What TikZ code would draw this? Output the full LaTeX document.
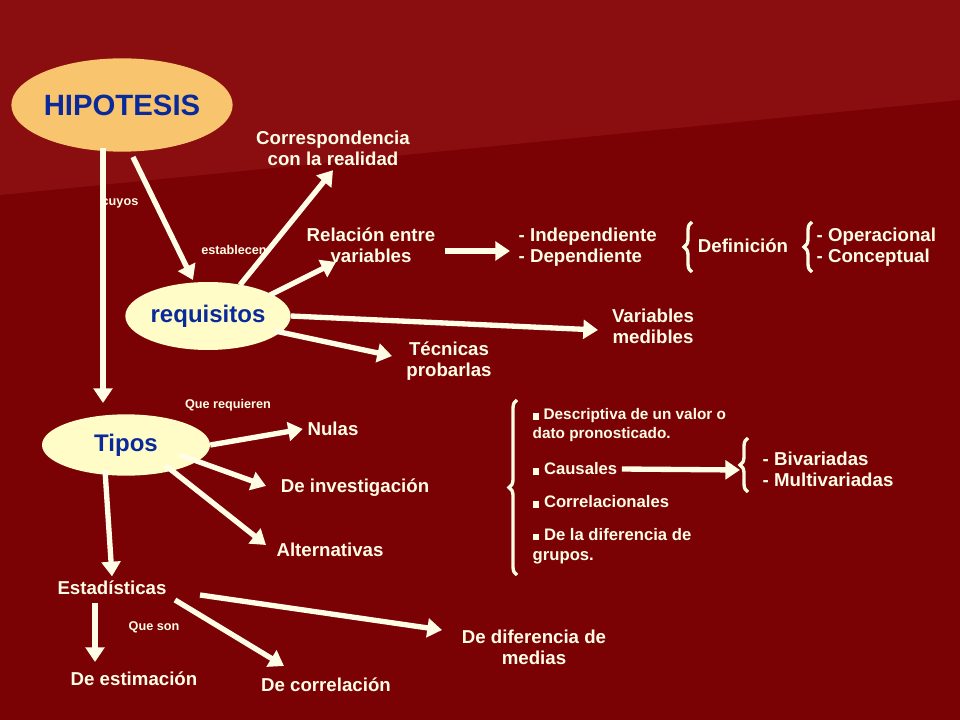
\documentclass[tikz,border=0pt]{standalone}
\usepackage{fontspec}
\setmainfont{Liberation Sans}
\usetikzlibrary{arrows.meta,decorations.pathreplacing,shapes.geometric}
\definecolor{fondo}{HTML}{7A0204}
\definecolor{banda}{HTML}{8A0E10}
\definecolor{crema}{HTML}{FFFDE6}
\definecolor{naranja}{HTML}{F8C46E}
\definecolor{amarillo}{HTML}{FFFCC8}
\definecolor{azul}{HTML}{0A2A9A}
\newcommand{\cuadro}{\rule{5pt}{5pt}\ }
\tikzset{
  txt/.style={text=crema,font=\fontsize{14}{16}\selectfont\bfseries,align=center},
  small/.style={text=crema,font=\fontsize{9.5}{11}\selectfont\bfseries},
  elip/.style={ellipse,inner sep=0pt,fill=amarillo,text=azul,font=\fontsize{18}{20}\selectfont\bfseries},
  flecha/.style={draw=crema,line width=4pt,-{Triangle[length=11pt,width=14pt]}},
  llave/.style={draw=crema,line width=2.5pt,decorate,decoration={brace,amplitude=6pt}}
}
\begin{document}
\begin{tikzpicture}[x=0.75pt,y=-0.75pt]
\fill[fondo] (0,0) rectangle (960,720);
\fill[banda] (0,0) -- (960,0) -- (960,100) -- (0,195) -- cycle;
% elipses
\node[elip,fill=naranja,minimum width=154pt,minimum height=70pt,font=\fontsize{22}{24}\selectfont\bfseries] (hip) at (122,105) {HIPOTESIS};
\node[elip,minimum width=124pt,minimum height=51pt] (req) at (208,316) {requisitos};
\node[elip,minimum width=126pt,minimum height=46pt] (tip) at (126,445) {Tipos};
% textos
\node[txt] (corr) at (333,148) {Correspondencia\\con la realidad};
\node[txt] (rel) at (371,245) {Relación entre\\variables};
\node[txt] (med) at (653,326) {Variables\\medibles};
\node[txt] (tec) at (449,361) {Técnicas\\probarlas};
\node[txt,align=left,anchor=west] (ind) at (514,247) {- Independiente\\- Dependiente};
\node[txt] (def) at (743,246) {Definición};
\node[txt,align=left,anchor=west] (ope) at (812,247) {- Operacional\\- Conceptual};
\node[txt] (nul) at (333,429) {Nulas};
\node[txt] (inv) at (355,488) {De investigación};
\node[txt] (alt) at (330,550) {Alternativas};
\node[txt] (est) at (112,588) {Estadísticas};
\node[txt] (esti) at (134,679) {De estimación};
\node[txt] (cor) at (326,685) {De correlación};
\node[txt] (dif) at (534,647) {De diferencia de\\medias};
\node[txt,align=left,anchor=west] (biv) at (758,469) {- Bivariadas\\- Multivariadas};
% lista
\node[small,anchor=west,align=left,font=\fontsize{11.5}{14}\selectfont\bfseries] (desc) at (528,425) {\cuadro Descriptiva de un valor o\\dato pronosticado.};
\node[txt,anchor=west,font=\fontsize{12.5}{15}\selectfont\bfseries] (cau) at (528,469) {\cuadro Causales};
\node[txt,anchor=west,font=\fontsize{12.5}{15}\selectfont\bfseries] (crl) at (528,502) {\cuadro Correlacionales};
\node[txt,anchor=west,align=left,font=\fontsize{12.5}{15}\selectfont\bfseries] (grp) at (528,546) {\cuadro De la diferencia de\\grupos.};
% etiquetas
\node[small] (cuy) at (120,203) {cuyos};
\node[small] (esta) at (234,250) {establecen};
\node[small] (qreq) at (228,405) {Que requieren};
\node[small] (qson) at (154,627) {Que son};
% llaves
\draw[llave] (692,272) -- (692,222);
\draw[llave] (812,272) -- (812,222);
\draw[llave] (517,575) -- (517,400);
\draw[llave] (748,492) -- (748,438);
% flechas
\draw[flecha] (103,148) -- (103,403);
\draw[flecha] (133,157) -- (193,280);
\draw[flecha] (240,285) -- (corr.south);
\draw[flecha] (270,295) -- (336,262);
\draw[flecha] (req.east) -- (598,330);
\draw[flecha] (275,331) -- (392,356);
\draw[flecha] (445,251) -- (510,251);
\draw[flecha] (tip.east) -- (nul.west);
\draw[flecha] (180,455) -- (266,486);
\draw[flecha] (165,465) -- (266,545);
\draw[flecha] (105,470) -- (est.north);
\draw[flecha] (95,603) -- (95,662);
\draw[flecha] (175,600) -- (284,666);
\draw[flecha] (200,595) -- (442,630);
\draw[flecha] (cau.east) -- (740,470);
\end{tikzpicture}
\end{document}
